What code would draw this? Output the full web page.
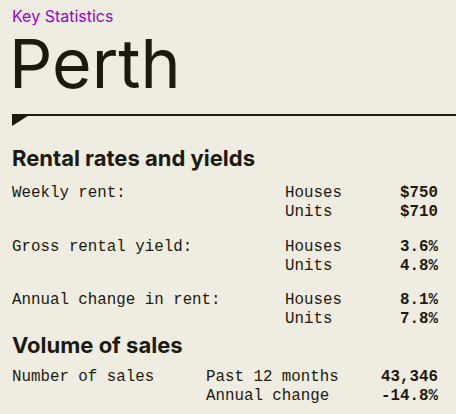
<!DOCTYPE html>
<html>
<head>
<meta charset="utf-8">
<script src="https://cdn.jsdelivr.net/npm/chart.js@4"></script>
<style>
  body { margin: 0; width: 456px; height: 414px; background: #efece1; color: #1c1a0e; position: relative; overflow: hidden; font-family: Inter, sans-serif; }
  .abs { position: absolute; white-space: nowrap; }
  .mono { font-family: "Liberation Mono", monospace; font-size: 15.8px; line-height: 18px; }
  .val { font-weight: bold; text-align: right; width: 120px; left: 318px; }
  h2 { margin: 0; font-size: 22px; font-weight: 700; }
</style>
</head>
<body>
<div class="abs" style="left:12px;top:6px;font-size:16px;color:#9b00d0;">Key Statistics</div>
<div class="abs" style="left:9px;top:25px;font-size:68px;line-height:76px;">Perth</div>
<div class="abs" style="left:12px;top:114px;width:444px;height:1.5px;background:#1c1a0e;"></div>
<svg class="abs" style="left:12px;top:114px" width="20" height="13"><polygon points="0,0 19,0 0,12" fill="#1c1a0e"/></svg>
<div id="content"></div>
<script>
const rentalLabels = ['Weekly rent:', 'Gross rental yield:', 'Annual change in rent:'];
const propertyTypes = ['Houses', 'Units'];
const houseValues = ['$750', '3.6%', '8.1%'];
const unitValues = ['$710', '4.8%', '7.8%'];
const salesLabel = 'Number of sales';
const salesPeriods = ['Past 12 months', 'Annual change'];
const salesValues = ['43,346', '-14.8%'];

let html = '<h2 class="abs" style="left:12px;top:145px;">Rental rates and yields</h2>';
rentalLabels.forEach(function(label, i) {
    const y = 184 + i * 53.5;
    html += `<div class="abs mono" style="left:12px;top:${y}px">${label}</div>`;
    html += `<div class="abs mono" style="left:285px;top:${y}px">${propertyTypes[0]}</div>`;
    html += `<div class="abs mono" style="left:285px;top:${y + 19}px">${propertyTypes[1]}</div>`;
    html += `<div class="abs mono val" style="top:${y}px">${houseValues[i]}</div>`;
    html += `<div class="abs mono val" style="top:${y + 19}px">${unitValues[i]}</div>`;
});
html += '<h2 class="abs" style="left:12px;top:332px;">Volume of sales</h2>';
html += `<div class="abs mono" style="left:12px;top:368px">${salesLabel}</div>`;
salesPeriods.forEach(function(p, i) {
    const y = 368 + i * 19;
    html += `<div class="abs mono" style="left:206px;top:${y}px">${p}</div>`;
    html += `<div class="abs mono val" style="top:${y}px">${salesValues[i]}</div>`;
});
document.getElementById('content').innerHTML = html;
</script>
</body>
</html>
